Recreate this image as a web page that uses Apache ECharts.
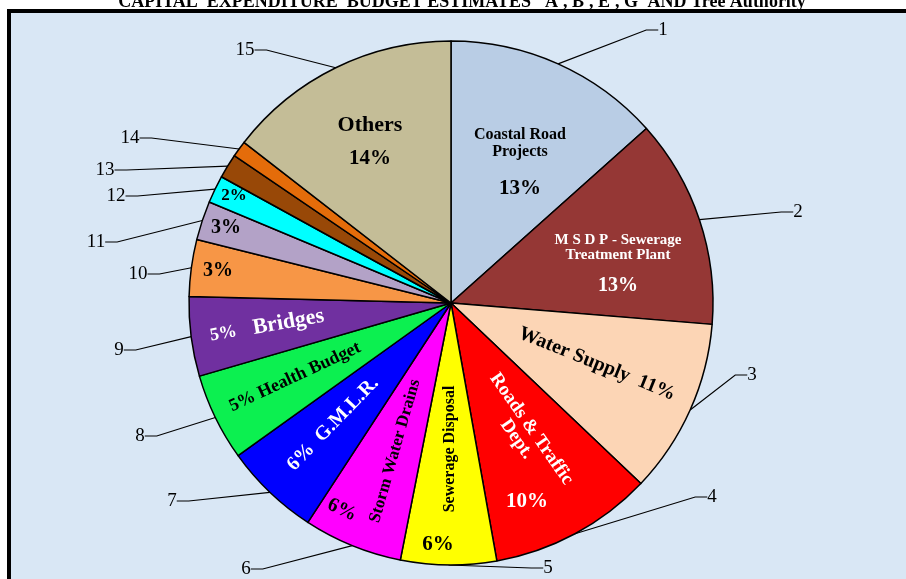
<!DOCTYPE html>
<html lang="en">
<head>
    <meta charset="UTF-8">
    <title>Capital Expenditure Budget Estimates</title>
    <script src="https://cdn.jsdelivr.net/npm/echarts@6/dist/echarts.min.js"></script>
    <style>
        html, body { margin: 0; padding: 0; background: #fff; }
        #chart { width: 906px; height: 579px; }
    </style>
</head>
<body>
    <div id="chart"></div>
    <script>
        // slice numbers, names and shares (clockwise from 12 o'clock)
        const sliceIds = ['1', '2', '3', '4', '5', '6', '7', '8', '9', '10', '11', '12', '13', '14', '15'];
        const categories = ['Coastal Road\nProjects', 'M S D P - Sewerage\nTreatment Plant', 'Water Supply',
            'Roads & Traffic\nDept.', 'Sewerage Disposal', 'Storm Water Drains', 'G.M.L.R.', 'Health Budget',
            'Bridges', '', '', '', '', '', 'Others'];
        const shares = [13.4, 12.9, 10.8, 10.1, 5.9, 6.1, 5.9, 5.4, 4.9, 3.5, 2.4, 1.7, 1.5, 1.0, 14.5];
        const pctLabels = ['13%', '13%', '11%', '10%', '6%', '6%', '6%', '5%', '5%', '3%', '3%', '2%', '', '', '14%'];
        const titleText = "CAPITAL  EXPENDITURE  BUDGET ESTIMATES  'A', B', E', G' AND Tree Authority";

        const sliceColors = ['#b9cde5', '#953735', '#fcd5b5', '#ff0000', '#ffff00', '#ff00ff', '#0000ff', '#0cf050',
            '#7030a0', '#f79646', '#b3a2c7', '#00ffff', '#984807', '#e46c0a', '#c4bd97'];

        // label placement [x, y, rotate]
        const insidePos = [[520, 172, 0], [618, 271, 0], [597, 364, -22], [524, 434, -55], [450, 449, 90],
            [395, 451, 74], [333, 424, 46], [295, 377, 25], [267, 326, 10], [218, 271, 0], [226, 228, 0],
            [234, 196, 0], [0, 0, 0], [0, 0, 0], [370, 147, 0]];
        const pctPos = { 3: [527, 502, 0], 4: [438, 545, 0], 5: [342, 510, -25] };
        const numPos = [[663, 30], [798, 212], [752, 375], [712, 497], [548, 568], [246, 569], [172, 501],
            [140, 436], [119, 350], [138, 274], [96, 242], [116, 196], [105, 170], [130, 138], [245, 50]];

        const serif = 'Liberation Serif';
        const C = [451, 303];
        const R = 262;

        function rs(size, color, lh) {
            return { fontFamily: serif, fontWeight: 'bold', fontSize: size, color: color, lineHeight: lh || size + 2 };
        }

        function wrap(key, text) {
            return text.split('\n').map(s => '{' + key + '|' + s + '}').join('\n');
        }

        // text written inside each slice
        function insideText(i) {
            const name = categories[i], pct = pctLabels[i];
            switch (i) {
                case 0: return wrap('n', name) + '\n{p|' + pct + '}';
                case 1: return wrap('m', name) + '\n{mp|' + pct + '}';
                case 2: return '{b|' + name + '  ' + pct + '}';
                case 3: return wrap('rw', name);
                case 4: return '{s|' + name + '}';
                case 5: return '{s2|' + name + '}';
                case 6: return '{gw|' + pct + '  ' + name + '}';
                case 7: return '{h|' + pct + ' ' + name + '}';
                case 8: return '{bs|' + pct + '}{bw|   ' + name + '}';
                case 9:
                case 10: return '{t|' + pct + '}';
                case 11: return '{sm|' + pct + '}';
                case 14: return '{o|' + name + '}\n{op|' + pct + '}';
                default: return '';
            }
        }

        const rich = {
            n: rs(16, '#000', 17),
            p: rs(21, '#000', 57),
            m: rs(15, '#fff', 15),
            mp: rs(20, '#fff', 47),
            b: rs(20, '#000'),
            rw: rs(19, '#fff', 18),
            s: rs(16, '#000'),
            s2: rs(17, '#000'),
            gw: rs(20, '#fff'),
            h: rs(18, '#000'),
            bs: rs(18, '#fff', 24),
            bw: rs(22, '#fff', 24),
            t: rs(20, '#000'),
            sm: rs(17, '#000'),
            o: rs(22, '#000', 24),
            op: rs(21, '#000', 44),
            pw: rs(21, '#fff'),
            pb: rs(21, '#000'),
            pb2: rs(20, '#000')
        };

        const mainData = shares.map((v, i) => ({
            name: sliceIds[i],
            value: v,
            itemStyle: { color: sliceColors[i] }
        }));

        const pctData = shares.map((v, i) => ({
            name: sliceIds[i],
            value: v,
            label: { show: !!pctPos[i] }
        }));

        const chart = echarts.init(document.getElementById('chart'));

        const option = {
            animation: false,
            graphic: [{
                // framed, light blue plot area
                type: 'rect',
                z: -10,
                shape: { x: 9, y: 11, width: 940, height: 620 },
                style: { fill: '#d9e7f5', stroke: '#000', lineWidth: 4 }
            }, {
                // title, cut off at the top edge like the source
                type: 'text',
                z: 10,
                x: 462,
                y: 11,
                style: {
                    text: titleText,
                    align: 'center',
                    verticalAlign: 'bottom',
                    font: 'bold 18px "Liberation Serif"',
                    fill: '#000'
                }
            }],
            series: [
                {
                    // coloured slices with the text written inside them
                    type: 'pie',
                    center: C,
                    radius: R,
                    startAngle: 90,
                    avoidLabelOverlap: false,
                    silent: true,
                    data: mainData,
                    itemStyle: { borderColor: '#000', borderWidth: 1.5 },
                    label: {
                        show: true,
                        position: 'inside',
                        align: 'center',
                        verticalAlign: 'middle',
                        formatter: p => insideText(p.dataIndex),
                        rich: rich
                    },
                    labelLine: { show: false },
                    labelLayout: function (p) {
                        const pos = insidePos[p.dataIndex];
                        return { x: pos[0], y: pos[1], rotate: pos[2], align: 'center', verticalAlign: 'middle' };
                    }
                },
                {
                    // separately placed percentages
                    type: 'pie',
                    center: C,
                    radius: R,
                    startAngle: 90,
                    avoidLabelOverlap: false,
                    silent: true,
                    data: pctData,
                    itemStyle: { color: 'transparent', borderWidth: 0 },
                    label: {
                        show: true,
                        position: 'inside',
                        formatter: p => {
                            const key = p.dataIndex === 3 ? 'pw' : (p.dataIndex === 5 ? 'pb2' : 'pb');
                            return '{' + key + '|' + pctLabels[p.dataIndex] + '}';
                        },
                        rich: rich
                    },
                    labelLine: { show: false },
                    labelLayout: function (p) {
                        const pos = pctPos[p.dataIndex];
                        if (!pos) return {};
                        return { x: pos[0], y: pos[1], rotate: pos[2], align: 'center', verticalAlign: 'middle' };
                    }
                },
                {
                    // slice numbers with leader lines
                    type: 'pie',
                    center: C,
                    radius: R,
                    startAngle: 90,
                    avoidLabelOverlap: false,
                    silent: true,
                    data: shares.map((v, i) => ({ name: sliceIds[i], value: v })),
                    itemStyle: { color: 'transparent', borderWidth: 0 },
                    label: {
                        show: true,
                        position: 'outside',
                        formatter: '{b}',
                        fontFamily: serif,
                        fontSize: 19,
                        color: '#000'
                    },
                    labelLine: {
                        show: true,
                        length: 20,
                        length2: 12,
                        lineStyle: { color: '#000', width: 1.2 }
                    },
                    labelLayout: function (p) {
                        const pos = numPos[p.dataIndex];
                        return { x: pos[0], y: pos[1], align: 'center', verticalAlign: 'middle' };
                    }
                }
            ]
        };

        chart.setOption(option);
    </script>
</body>
</html>
